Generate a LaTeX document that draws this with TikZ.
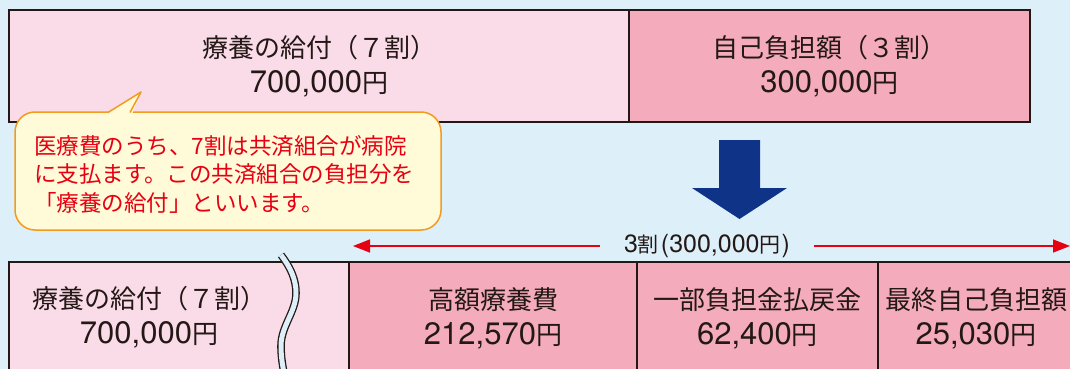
\documentclass[tikz,border=0pt]{standalone}
\usepackage{fontspec}
\setmainfont{Noto Sans CJK JP}
\newfontfamily\numfont{TeX Gyre Heros}
\usepackage{xcolor}
\usetikzlibrary{arrows.meta,positioning}
\definecolor{sky}{HTML}{DDF0FA}
\definecolor{pinkpale}{HTML}{FADCE9}
\definecolor{pinkdeep}{HTML}{F4ABBB}
\definecolor{ink}{HTML}{231815}
\definecolor{notefill}{HTML}{FFFAD8}
\definecolor{noteline}{HTML}{F29B1E}
\definecolor{alert}{HTML}{E60012}
\definecolor{navy}{HTML}{0E3387}
\newcommand{\amt}[1]{{\numfont\fontsize{31}{35}\selectfont #1}}
\newcommand{\spannum}[1]{{\numfont\fontsize{25}{28}\selectfont #1}}

\tikzset{
  part/.style={draw=ink, line width=1.4pt, inner sep=0pt, outer sep=0pt, minimum height=112pt,
    align=center, text=ink, font=\fontsize{26}{35}\selectfont},
  parttext/.style={inner sep=0pt, align=center, text=ink, font=\fontsize{26}{35}\selectfont},
  notetext/.style={inner sep=0pt, align=left, text=alert, font=\fontsize{22.5}{28.5}\selectfont},
  spanarrow/.style={draw=alert, line width=1.6pt, -{Triangle[length=17pt,width=13pt]}},
}

\begin{document}
\begin{tikzpicture}[x=1pt,y=-1pt]
  \useasboundingbox[fill=sky] (0,0) rectangle (1070,369);

  % before: whole bill
  \node[part, fill=pinkpale, minimum width=620pt, anchor=north west] (topcare) at (9,10)
    {療養の給付（７割）\\\amt{700,000}円};
  \node[part, fill=pinkdeep, minimum width=401pt, right=0pt of topcare] (topself)
    {自己負担額（３割）\\\amt{300,000}円};

  % callout
  \draw[fill=notefill, draw=noteline, line width=1.5pt, rounded corners=20pt] (15,112) rectangle (441,230);
  \fill[notefill] (106,114) -- (141,92) -- (132,114) -- cycle;
  \draw[noteline, line width=1.5pt, line join=round] (108,112.5) -- (141,92) -- (130,112.5);
  \node[notetext, anchor=north west] (notetxt) at (34,135)
    {医療費のうち、7割は共済組合が病院\\に支払ます。この共済組合の負担分を\\「療養の給付」といいます。};

  % big arrow
  \fill[navy] (719,140) -- (760,140) -- (760,188) -- (787,188) -- (739.5,219) -- (692,188) -- (719,188) -- cycle;

  % 3 割 span
  \node[inner ysep=0pt, inner xsep=24pt, text=ink, font=\fontsize{21}{24}\selectfont] (span) at (707,246)
    {\spannum{3}割\kern2pt\spannum{(300,000}円\kern1pt\spannum{)}};
  \coordinate (spanleft) at (353,246);
  \coordinate (spanright) at (1070,246);
  \draw[spanarrow] (span.west) -- (spanleft);
  \draw[spanarrow] (span.east) -- (spanright);

  % after: split of the 3 割
  \node[part, fill=pinkpale, minimum width=340pt, anchor=north west] (botcare) at (9,262) {};
  \node[parttext] (botcaretxt) at (149,317) {療養の給付（７割）\\\amt{700,000}円};
  \draw[draw=ink, line width=1.3pt, double=sky, double distance=5pt]
    (281,255) .. controls (291,268) and (296,280) .. (296,293)
    .. controls (296,312) and (281,326) .. (281,346)
    .. controls (281,358) and (283,368) .. (285,378);
  \node[part, fill=pinkdeep, minimum width=288pt, right=0pt of botcare] (highcost)
    {高額療養費\\\amt{212,570}円};
  \node[part, fill=pinkdeep, minimum width=241pt, right=0pt of highcost] (refund)
    {一部負担金払戻金\\\amt{62,400}円};
  \node[part, fill=pinkdeep, minimum width=196pt, right=0pt of refund] (final)
    {最終自己負担額\\\amt{25,030}円};
\end{tikzpicture}
\end{document}
